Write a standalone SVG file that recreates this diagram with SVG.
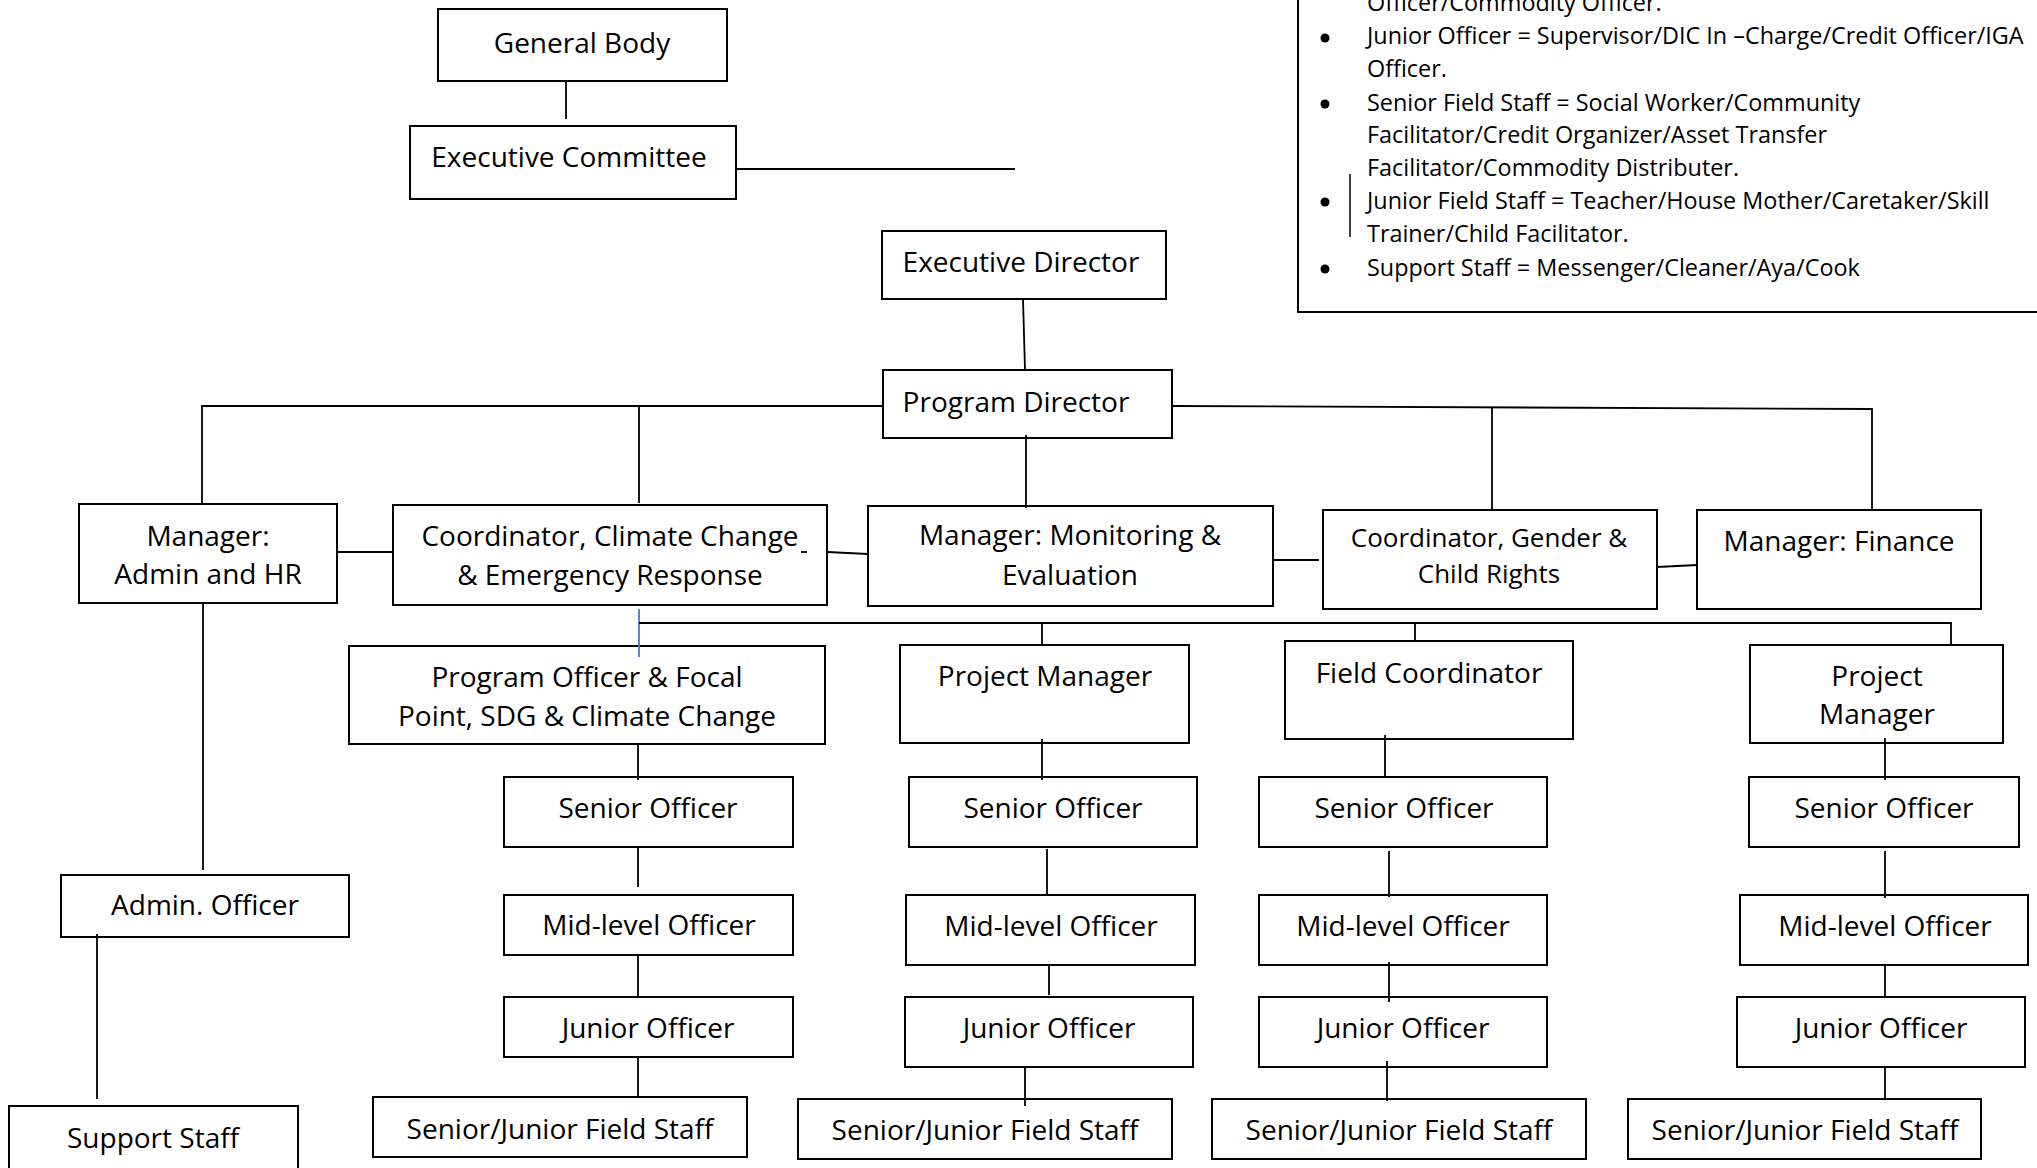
<svg xmlns="http://www.w3.org/2000/svg" width="2037" height="1168" viewBox="0 0 2037 1168">
<style>
.box{fill:#fff;stroke:#000;stroke-width:2}
.t{font-family:"Open Sans","Liberation Sans",sans-serif;font-size:28px;text-anchor:middle;fill:#000}
.s{font-size:26px}
.lg{font-family:"Open Sans","Liberation Sans",sans-serif;font-size:23.4px;fill:#000}
.ln{stroke:#000;stroke-width:1.8;fill:none}
.blue{stroke:#4a76c0;stroke-width:1.8;fill:none}
</style>
<rect width="2037" height="1168" fill="#fff"/>

<g id="legend">
<rect x="1298" y="-10" width="800" height="322" fill="#fff" stroke="#000" stroke-width="2"/>
<g fill="#000">
<circle cx="1325" cy="38" r="4.5"/>
<circle cx="1325" cy="104" r="4.5"/>
<circle cx="1325" cy="202" r="4.5"/>
<circle cx="1325" cy="269" r="4.5"/>
</g>
<line x1="1350" y1="174" x2="1350" y2="237" stroke="#000" stroke-width="1.5"/>
<text class="lg" x="1367" y="11">Officer/Commodity Officer.</text>
<text class="lg" x="1367" y="44">Junior Officer = Supervisor/DIC In –Charge/Credit Officer/IGA</text>
<text class="lg" x="1367" y="77">Officer.</text>
<text class="lg" x="1367" y="111">Senior Field Staff = Social Worker/Community</text>
<text class="lg" x="1367" y="143">Facilitator/Credit Organizer/Asset Transfer</text>
<text class="lg" x="1367" y="176">Facilitator/Commodity Distributer.</text>
<text class="lg" x="1367" y="209">Junior Field Staff = Teacher/House Mother/Caretaker/Skill</text>
<text class="lg" x="1367" y="242">Trainer/Child Facilitator.</text>
<text class="lg" x="1367" y="276">Support Staff = Messenger/Cleaner/Aya/Cook</text>
</g>

<g id="general-body"><rect class="box" x="438" y="9" width="289" height="72"/><text class="t" x="582" y="53">General Body</text></g>
<g id="executive-committee"><rect class="box" x="410" y="126" width="326" height="73"/><text class="t" x="569" y="167">Executive Committee</text></g>
<g id="executive-director"><rect class="box" x="882" y="231" width="284" height="68"/><text class="t" x="1021" y="272">Executive Director</text></g>
<g id="program-director"><rect class="box" x="883" y="370" width="289" height="68"/><text class="t" x="1016" y="412">Program Director</text></g>

<g id="manager-admin-hr"><rect class="box" x="79" y="504" width="258" height="99"/><text class="t" x="208" y="546">Manager:</text><text class="t" x="208" y="584">Admin and HR</text></g>
<g id="coordinator-climate"><rect class="box" x="393" y="505" width="434" height="100"/><text class="t" x="610" y="546">Coordinator, Climate Change</text><text class="t" x="610" y="585">&amp; Emergency Response</text></g>
<g id="manager-me"><rect class="box" x="868" y="506" width="405" height="100"/><text class="t" x="1070" y="545">Manager: Monitoring &amp;</text><text class="t" x="1070" y="585">Evaluation</text></g>
<g id="coordinator-gender"><rect class="box" x="1323" y="510" width="334" height="99"/><text class="t s" x="1489" y="547">Coordinator, Gender &amp;</text><text class="t s" x="1489" y="583">Child Rights</text></g>
<g id="manager-finance"><rect class="box" x="1697" y="510" width="284" height="99"/><text class="t" x="1839" y="551">Manager: Finance</text></g>

<g id="admin-officer"><rect class="box" x="61" y="875" width="288" height="62"/><text class="t" x="205" y="915">Admin. Officer</text></g>
<g id="support-staff"><rect class="box" x="9" y="1106" width="289" height="70"/><text class="t" x="153" y="1148">Support Staff</text></g>

<g id="program-officer"><rect class="box" x="349" y="646" width="476" height="98"/><text class="t" x="587" y="687">Program Officer &amp; Focal</text><text class="t" x="587" y="726">Point, SDG &amp; Climate Change</text></g>
<g id="c1-senior"><rect class="box" x="504" y="777" width="289" height="70"/><text class="t" x="648" y="818">Senior Officer</text></g>
<g id="c1-mid"><rect class="box" x="504" y="895" width="289" height="60"/><text class="t" x="649" y="935">Mid-level Officer</text></g>
<g id="c1-junior"><rect class="box" x="504" y="997" width="289" height="60"/><text class="t" x="648" y="1038">Junior Officer</text></g>
<g id="c1-field"><rect class="box" x="373" y="1097" width="374" height="60"/><text class="t" x="560" y="1139">Senior/Junior Field Staff</text></g>

<g id="project-manager-1"><rect class="box" x="900" y="645" width="289" height="98"/><text class="t" x="1045" y="686">Project Manager</text></g>
<g id="c2-senior"><rect class="box" x="909" y="777" width="288" height="70"/><text class="t" x="1053" y="818">Senior Officer</text></g>
<g id="c2-mid"><rect class="box" x="906" y="895" width="289" height="70"/><text class="t" x="1051" y="936">Mid-level Officer</text></g>
<g id="c2-junior"><rect class="box" x="905" y="997" width="288" height="70"/><text class="t" x="1049" y="1038">Junior Officer</text></g>
<g id="c2-field"><rect class="box" x="798" y="1099" width="374" height="60"/><text class="t" x="985" y="1140">Senior/Junior Field Staff</text></g>

<g id="field-coordinator"><rect class="box" x="1285" y="641" width="288" height="98"/><text class="t" x="1429" y="683">Field Coordinator</text></g>
<g id="c3-senior"><rect class="box" x="1259" y="777" width="288" height="70"/><text class="t" x="1404" y="818">Senior Officer</text></g>
<g id="c3-mid"><rect class="box" x="1259" y="895" width="288" height="70"/><text class="t" x="1403" y="936">Mid-level Officer</text></g>
<g id="c3-junior"><rect class="box" x="1259" y="997" width="288" height="70"/><text class="t" x="1403" y="1038">Junior Officer</text></g>
<g id="c3-field"><rect class="box" x="1212" y="1099" width="374" height="60"/><text class="t" x="1399" y="1140">Senior/Junior Field Staff</text></g>

<g id="project-manager-2"><rect class="box" x="1750" y="645" width="253" height="98"/><text class="t" x="1877" y="686">Project</text><text class="t" x="1877" y="724">Manager</text></g>
<g id="c4-senior"><rect class="box" x="1749" y="777" width="270" height="70"/><text class="t" x="1884" y="818">Senior Officer</text></g>
<g id="c4-mid"><rect class="box" x="1740" y="895" width="288" height="70"/><text class="t" x="1885" y="936">Mid-level Officer</text></g>
<g id="c4-junior"><rect class="box" x="1737" y="997" width="288" height="70"/><text class="t" x="1881" y="1038">Junior Officer</text></g>
<g id="c4-field"><rect class="box" x="1628" y="1099" width="353" height="60"/><text class="t" x="1805" y="1140">Senior/Junior Field Staff</text></g>

<g id="connectors">
<line class="ln" x1="566" y1="81" x2="566" y2="119"/>
<line class="ln" x1="736" y1="169" x2="1015" y2="169"/>
<line class="ln" x1="1023" y1="299" x2="1025" y2="370"/>
<polyline class="ln" points="202,504 202,406 883,406"/>
<line class="ln" x1="639" y1="407" x2="639" y2="503"/>
<polyline class="ln" points="1172,406 1872,409 1872,509"/>
<line class="ln" x1="1492" y1="407" x2="1492" y2="510"/>
<line class="ln" x1="1026" y1="435" x2="1026" y2="508"/>
<line class="ln" x1="337" y1="552" x2="393" y2="552"/>
<line class="ln" x1="827" y1="552" x2="868" y2="554"/>
<line class="ln" x1="801" y1="552" x2="807" y2="552" stroke-width="1.5"/>
<line class="ln" x1="1273" y1="560" x2="1319" y2="560"/>
<line class="ln" x1="1657" y1="567" x2="1697" y2="565"/>
<line class="ln" x1="203" y1="603" x2="203" y2="870"/>
<line class="ln" x1="97" y1="934" x2="97" y2="1099"/>
<line class="blue" x1="639" y1="609" x2="639" y2="657"/>
<polyline class="ln" points="639,623 1951,623 1951,645"/>
<line class="ln" x1="1042" y1="623" x2="1042" y2="645"/>
<line class="ln" x1="1415" y1="623" x2="1415" y2="641"/>
<line class="ln" x1="638" y1="744" x2="638" y2="780"/>
<line class="ln" x1="638" y1="847" x2="638" y2="887"/>
<line class="ln" x1="638" y1="955" x2="638" y2="997"/>
<line class="ln" x1="638" y1="1057" x2="638" y2="1097"/>
<line class="ln" x1="1042" y1="739" x2="1042" y2="780"/>
<line class="ln" x1="1047" y1="849" x2="1047" y2="894"/>
<line class="ln" x1="1049" y1="965" x2="1049" y2="995"/>
<line class="ln" x1="1025" y1="1067" x2="1025" y2="1106"/>
<line class="ln" x1="1385" y1="735" x2="1385" y2="776"/>
<line class="ln" x1="1389" y1="851" x2="1389" y2="897"/>
<line class="ln" x1="1389" y1="962" x2="1389" y2="1002"/>
<line class="ln" x1="1387" y1="1061" x2="1387" y2="1101"/>
<line class="ln" x1="1885" y1="738" x2="1885" y2="780"/>
<line class="ln" x1="1885" y1="851" x2="1885" y2="898"/>
<line class="ln" x1="1885" y1="965" x2="1885" y2="997"/>
<line class="ln" x1="1885" y1="1067" x2="1885" y2="1099"/>
</g>
</svg>
